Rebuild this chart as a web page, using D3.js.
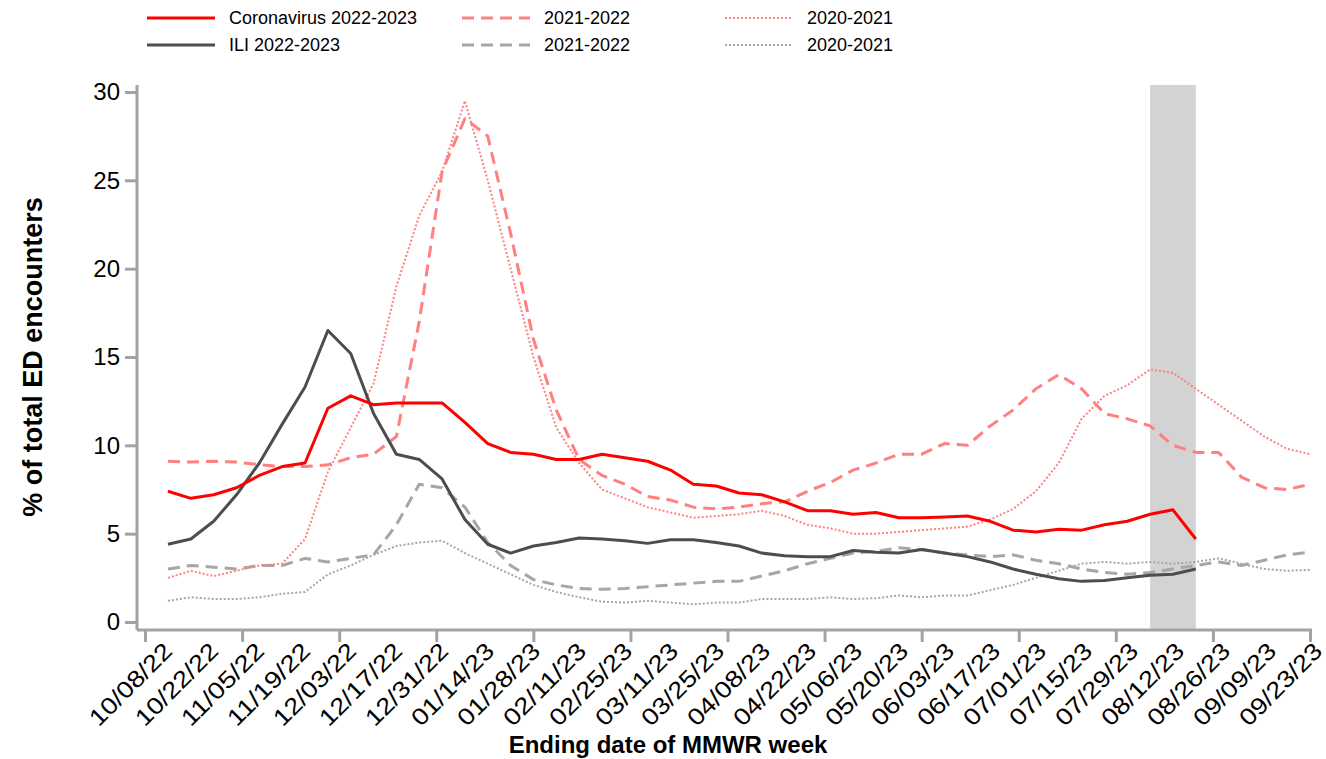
<!DOCTYPE html>
<html>
<head>
<meta charset="utf-8">
<script src="https://cdn.jsdelivr.net/npm/d3@7"></script>
<style>
  body { margin: 0; background: #fff; }
  text { font-family: "Liberation Sans", Arial, sans-serif; }
</style>
</head>
<body>
<svg id="chart" width="1326" height="759"></svg>
<script>
// weekly values, week 0 = 10/08/22
var covid2223 = [7.4, 7.0, 7.2, 7.6, 8.3, 8.8, 9.0, 12.1, 12.8, 12.3, 12.4, 12.4, 12.4, 11.3, 10.1, 9.6, 9.5, 9.2, 9.2, 9.5, 9.3, 9.1, 8.6, 7.8, 7.7, 7.3, 7.2, 6.8, 6.3, 6.3, 6.1, 6.2, 5.9, 5.9, 5.95, 6.0, 5.7, 5.2, 5.1, 5.25, 5.2, 5.5, 5.7, 6.1, 6.35, 4.7]
var ili2223 = [4.4, 4.7, 5.7, 7.2, 9.0, 11.2, 13.3, 16.5, 15.2, 11.8, 9.5, 9.2, 8.1, 5.8, 4.4, 3.9, 4.3, 4.5, 4.75, 4.7, 4.6, 4.45, 4.65, 4.65, 4.5, 4.3, 3.9, 3.75, 3.7, 3.7, 4.05, 3.95, 3.9, 4.1, 3.9, 3.7, 3.4, 3.0, 2.7, 2.45, 2.3, 2.35, 2.5, 2.65, 2.7, 3.0]
var covid2122 = [9.1, 9.05, 9.1, 9.05, 8.9, 8.8, 8.8, 8.9, 9.3, 9.5, 10.5, 17, 25.5, 28.5, 27.5, 22, 16, 12, 9.2, 8.3, 7.8, 7.1, 6.9, 6.5, 6.4, 6.5, 6.7, 6.8, 7.4, 7.9, 8.6, 9.0, 9.5, 9.5, 10.1, 10.0, 11.1, 12.0, 13.2, 14.0, 13.2, 11.8, 11.5, 11.1, 10.0, 9.6, 9.6, 8.2, 7.6, 7.5, 7.8]
var covid2021 = [2.5, 2.9, 2.6, 2.9, 3.2, 3.3, 4.7, 8.5, 11, 13.5, 19, 23, 25.5, 29.5, 25, 20, 15, 11, 9, 7.5, 7, 6.5, 6.2, 5.9, 6.0, 6.1, 6.3, 6.0, 5.5, 5.3, 5.0, 5.0, 5.1, 5.2, 5.3, 5.4, 5.8, 6.4, 7.4, 9.0, 11.5, 12.8, 13.4, 14.3, 14.1, 13.2, 12.3, 11.4, 10.5, 9.8, 9.5]
var ili2122 = [3.0, 3.2, 3.1, 3.0, 3.2, 3.2, 3.6, 3.4, 3.6, 3.8, 5.5, 7.8, 7.6, 6.5, 4.5, 3.2, 2.4, 2.1, 1.9, 1.85, 1.9, 2.0, 2.1, 2.2, 2.3, 2.3, 2.6, 2.9, 3.3, 3.6, 3.9, 4.0, 4.2, 4.1, 3.9, 3.8, 3.7, 3.8, 3.5, 3.3, 3.0, 2.8, 2.7, 2.8, 3.0, 3.2, 3.4, 3.2, 3.5, 3.8, 3.95]
var ili2021 = [1.2, 1.4, 1.3, 1.3, 1.4, 1.6, 1.7, 2.7, 3.2, 3.8, 4.3, 4.5, 4.6, 3.9, 3.3, 2.7, 2.1, 1.7, 1.4, 1.15, 1.1, 1.2, 1.1, 1.0, 1.1, 1.1, 1.3, 1.3, 1.3, 1.4, 1.3, 1.35, 1.5, 1.4, 1.5, 1.5, 1.8, 2.1, 2.5, 2.9, 3.3, 3.4, 3.3, 3.4, 3.3, 3.4, 3.6, 3.3, 3.0, 2.9, 2.95]
var tickLabels = ["10/08/22","10/22/22","11/05/22","11/19/22","12/03/22","12/17/22","12/31/22","01/14/23","01/28/23","02/11/23","02/25/23","03/11/23","03/25/23","04/08/23","04/22/23","05/06/23","05/20/23","06/03/23","06/17/23","07/01/23","07/15/23","07/29/23","08/12/23","08/26/23","09/09/23","09/23/23"]
var yTicks = [0, 5, 10, 15, 20, 25, 30]
var band = [43, 45]

var svg = d3.select("#chart")
var axisColor = "#a0a4a8"

var x = d3.scaleLinear().domain([0, 50]).range([168, 1310])
var y = d3.scaleLinear().domain([0, 30]).range([622, 92])

// shaded incomplete weeks
svg.append("rect")
  .attr("x", x(band[0])).attr("width", x(band[1]) - x(band[0]))
  .attr("y", 85).attr("height", 630 - 85)
  .attr("fill", "#d3d3d3")

var line = d3.line()
  .x(function(d, i) { return x(i) })
  .y(function(d) { return y(d) })

var series = [
  { data: ili2021, color: "#a6a6a6", dash: "2,2", w: 2, label: "2020-2021" },
  { data: ili2122, color: "#a6a6a6", dash: "12,7", w: 3, label: "2021-2022" },
  { data: covid2021, color: "#ff8080", dash: "2,2", w: 2, label: "2020-2021" },
  { data: covid2122, color: "#ff8080", dash: "12,7", w: 3, label: "2021-2022" },
  { data: ili2223, color: "#4d4d4d", dash: null, w: 3, label: "ILI 2022-2023" },
  { data: covid2223, color: "#ff0000", dash: null, w: 3, label: "Coronavirus 2022-2023" }
]

series.forEach(function(s) {
  svg.append("path")
    .datum(s.data)
    .attr("d", line)
    .attr("fill", "none")
    .attr("stroke", s.color)
    .attr("stroke-width", s.w)
    .attr("stroke-dasharray", s.dash)
    .attr("stroke-linejoin", "round")
})

// y axis
var yAxis = svg.append("g")
  .attr("transform", "translate(137,0)")
  .call(d3.axisLeft(y).tickValues(yTicks).tickSize(12).tickPadding(5))
yAxis.select(".domain").remove()
yAxis.append("line").attr("y1", 85).attr("y2", 630).attr("stroke", axisColor).attr("stroke-width", 3)
yAxis.selectAll(".tick line").attr("stroke", axisColor).attr("stroke-width", 3)
yAxis.selectAll(".tick text").attr("font-size", 24).attr("fill", "#000")

// x axis: tick marks and labels are spaced independently
var tickScale = d3.scaleLinear().domain([0, 12]).range([145, 1310])
var xAxis = svg.append("g")
  .attr("transform", "translate(0,630)")
  .call(d3.axisBottom(tickScale).ticks(12).tickSize(12).tickFormat(""))
xAxis.select(".domain").remove()
xAxis.append("line").attr("x1", 137).attr("x2", 1312).attr("stroke", axisColor).attr("stroke-width", 3)
xAxis.selectAll(".tick line").attr("stroke", axisColor).attr("stroke-width", 3)

var labelX = d3.scalePoint().domain(tickLabels).range([162, 1312])
svg.append("g").selectAll("text")
  .data(tickLabels)
  .join("text")
  .attr("transform", function(d) { return "translate(" + labelX(d) + ",641) rotate(-45)" })
  .attr("text-anchor", "end")
  .attr("dy", "0.7em")
  .attr("font-size", 23.5)
  .attr("textLength", 106)
  .attr("lengthAdjust", "spacingAndGlyphs")
  .text(function(d) { return d })

svg.append("text")
  .attr("x", 668).attr("y", 753)
  .attr("text-anchor", "middle")
  .attr("font-size", 24).attr("font-weight", "bold")
  .text("Ending date of MMWR week")

svg.append("text")
  .attr("transform", "translate(42,357) rotate(-90)")
  .attr("text-anchor", "middle")
  .attr("font-size", 27).attr("font-weight", "bold")
  .text("% of total ED encounters")

// legend
var legend = [
  { s: series[5], x: 147, y: 18 }, { s: series[3], x: 462, y: 18 }, { s: series[2], x: 725, y: 18 },
  { s: series[4], x: 147, y: 45 }, { s: series[1], x: 462, y: 45 }, { s: series[0], x: 725, y: 45 }
]
legend.forEach(function(l) {
  svg.append("line")
    .attr("x1", l.x).attr("x2", l.x + 68).attr("y1", l.y).attr("y2", l.y)
    .attr("stroke", l.s.color).attr("stroke-width", l.s.w)
    .attr("stroke-dasharray", l.s.dash)
  svg.append("text")
    .attr("x", l.x + 82).attr("y", l.y).attr("dy", "0.35em")
    .attr("font-size", 18)
    .text(l.s.label)
})
</script>
</body>
</html>
